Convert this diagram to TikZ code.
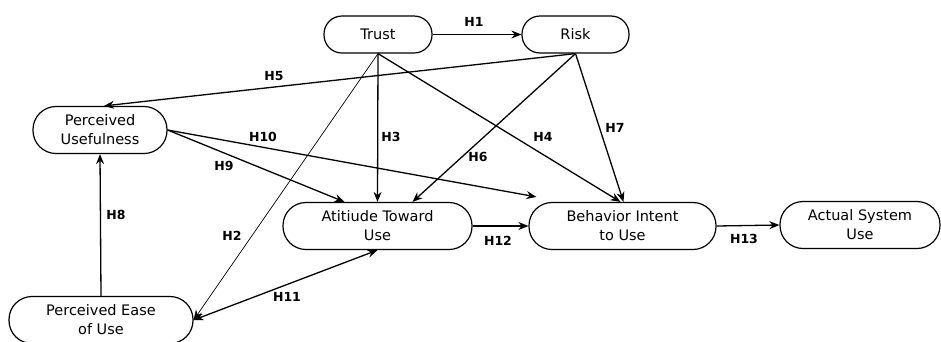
\documentclass[tikz,border=0pt]{standalone}
\usepackage{fontspec}
\setmainfont{DejaVu Sans}
\usetikzlibrary{arrows.meta}
\begin{document}
\begin{tikzpicture}[x=1pt,y=-1pt,
  box/.style={draw,line width=1.2pt,rounded corners=#1,align=center,inner sep=0pt,
    font=\fontsize{14.5}{19}\selectfont},
  lab/.style={font=\fontsize{12.5}{14}\selectfont\bfseries,inner sep=0pt},
  arr/.style={line width=1.3pt,-{Stealth[length=10pt,width=8pt]}},
  thinarr/.style={line width=0.7pt,-{Stealth[length=10pt,width=8pt]}},
  dbl/.style={line width=1.3pt,{Stealth[length=10pt,width=8pt]}-{Stealth[length=10pt,width=8pt]}}]
\useasboundingbox (0,0) rectangle (941,341);
\node[box=18pt,minimum width=108pt,minimum height=37pt] (trust) at (378,34.5) {Trust};
\node[box=18pt,minimum width=107pt,minimum height=37pt] (risk) at (575.5,34.5) {Risk};
\node[box=23pt,minimum width=134pt,minimum height=47pt] (pu) at (100,130) {Perceived\\Usefulness};
\node[box=23pt,minimum width=189pt,minimum height=47pt] (atu) at (377.5,226) {Atitiude Toward\\Use};
\node[box=23pt,minimum width=187pt,minimum height=47pt] (bi) at (622.5,226) {Behavior Intent\\to Use};
\node[box=23pt,minimum width=160pt,minimum height=47pt] (asu) at (860,225) {Actual System\\Use};
\node[box=23pt,minimum width=184pt,minimum height=47pt] (peou) at (101,320) {Perceived Ease\\of Use};

\draw[arr] (trust.east) -- (risk.west);
\draw[arr] (risk.south) -- ([xshift=4pt]pu.north);
\draw[arr] (trust.south) -- (atu.north);
\draw[thinarr] (trust.south) -- (peou.east);
\draw[arr] (trust.south) -- ([xshift=-2pt]bi.north);
\draw[arr] (risk.south) -- ([xshift=35pt]atu.north);
\draw[arr] (risk.south) -- ([xshift=1pt]bi.north);
\draw[arr] (pu.east) -- ([xshift=-33pt]atu.north);
\draw[arr] (pu.east) -- ([xshift=8pt,yshift=5pt]bi.north west);
\draw[arr] (peou.north) -- (pu.south);
\draw[dbl] (peou.east) -- (atu.south);
\draw[arr] (atu.east) -- (bi.west);
\draw[arr] (bi.east) -- (asu.west);

\node[lab] (h1) at (474,22) {H1};
\node[lab] (h5) at (274,76) {H5};
\node[lab] (h10) at (263,137) {H10};
\node[lab] (h3) at (391,137) {H3};
\node[lab] (h9) at (224,166) {H9};
\node[lab] (h4) at (543,137) {H4};
\node[lab] (h7) at (615,128) {H7};
\node[lab] (h6) at (478,157) {H6};
\node[lab] (h8) at (116,215) {H8};
\node[lab] (h2) at (232,236) {H2};
\node[lab] (h11) at (287,297) {H11};
\node[lab] (h12) at (498,241) {H12};
\node[lab] (h13) at (744,239) {H13};
\end{tikzpicture}
\end{document}
